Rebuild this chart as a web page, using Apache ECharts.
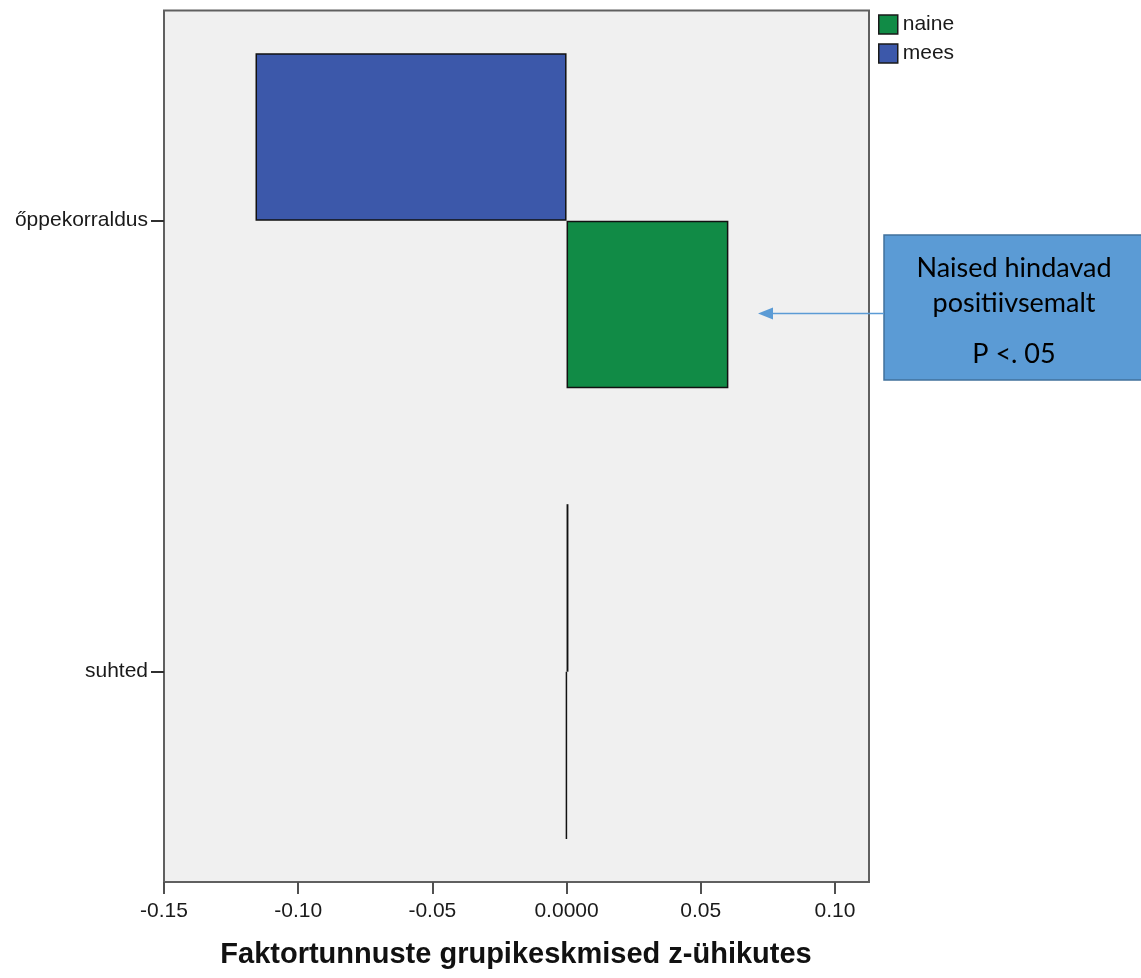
<!DOCTYPE html>
<html>
<head>
<meta charset="utf-8">
<script src="https://cdn.jsdelivr.net/npm/echarts@6/dist/echarts.min.js"></script>
<style>
html,body{margin:0;padding:0;background:#fff;}
#chart{width:1141px;height:978px;}
</style>
</head>
<body>
<div id="chart"></div>
<script>
// ---- data ----
const categories = ['őppekorraldus', 'suhted'];
const seriesNames = ['mees', 'naine'];
const meesValues = [-0.1159, 0.0007];
const naineValues = [0.0603, -0.0001];
const xTicks = [-0.15, -0.10, -0.05, 0, 0.05, 0.10];
const xTickLabels = ['-0.15', '-0.10', '-0.05', '0.0000', '0.05', '0.10'];
const axisTitle = 'Faktortunnuste grupikeskmised z-ühikutes';
const noteLines = ['Naised hindavad', 'positiivsemalt', 'P <. 05'];

const xMin = -0.15, xMax = 0.1127;
const labelMap = {};
xTicks.forEach((v, i) => { labelMap[v.toFixed(4)] = xTickLabels[i]; });

const chart = echarts.init(document.getElementById('chart'), null, {renderer: 'canvas'});
const FONT = '"Liberation Sans", Arial, sans-serif';
const NOTEFONT = 'Lato, "Open Sans", sans-serif';

const option = {
  animation: false,
  backgroundColor: '#ffffff',
  grid: [
    {left: 164, top: 10.5, width: 705, height: 871.5, show: true, outerBoundsMode: 'none',
     backgroundColor: '#f0f0f0', borderColor: '#606060', borderWidth: 2, z: 0},
    {left: 164, top: -4.8, width: 705, height: 902, show: false, outerBoundsMode: 'none'}
  ],
  legend: {
    data: ['naine', 'mees'],
    orient: 'vertical',
    left: 873, top: 9,
    itemWidth: 19, itemHeight: 19, itemGap: 8,
    icon: 'rect',
    textStyle: {fontFamily: FONT, fontSize: 21, color: '#1a1a1a'},
    itemStyle: {borderColor: '#1a1a1a', borderWidth: 1.5}
  },
  xAxis: [
    {gridIndex: 0, type: 'value', min: xMin, max: xMax,
     splitLine: {show: false}, axisLine: {show: false},
     axisTick: {show: true, length: 12, customValues: xTicks,
                lineStyle: {color: '#505050', width: 2}},
     axisLabel: {show: true, customValues: xTicks, margin: 19,
                 fontFamily: FONT, fontSize: 21, color: '#1a1a1a',
                 formatter: v => labelMap[Number(v).toFixed(4)] ?? ''}},
    {gridIndex: 1, type: 'value', min: xMin, max: xMax, show: false,
     splitLine: {show: false}}
  ],
  yAxis: [
    {gridIndex: 0, type: 'value', show: false, splitLine: {show: false}},
    {gridIndex: 1, type: 'category', data: categories, inverse: true,
     axisLine: {show: false, onZero: false},
     axisTick: {show: true, alignWithLabel: true, length: 13,
                lineStyle: {color: '#303030', width: 2}},
     axisLabel: {margin: 16, fontFamily: FONT, fontSize: 21, color: '#1a1a1a'},
     splitLine: {show: false}}
  ],
  series: [
    {name: 'mees', type: 'bar', xAxisIndex: 1, yAxisIndex: 1,
     data: meesValues, barWidth: 167.5, barGap: '0%',
     itemStyle: {color: '#3c58aa', borderColor: '#111', borderWidth: 1.5}},
    {name: 'naine', type: 'bar', xAxisIndex: 1, yAxisIndex: 1,
     data: naineValues, barWidth: 167.5, barGap: '0%',
     itemStyle: {color: '#118b46', borderColor: '#111', borderWidth: 1.5}}
  ],
  graphic: [
    {type: 'text', x: 516, y: 955,
     style: {text: axisTitle, fontFamily: FONT, fontSize: 29, fontWeight: 'bold', fill: '#111',
             align: 'center', verticalAlign: 'middle'},
     z: 10},
    {type: 'rect', shape: {x: 884, y: 235, width: 270, height: 145},
     style: {fill: '#5b9bd5', stroke: '#41719c', lineWidth: 1.5}, z: 10},
    {type: 'text', x: 1014, y: 268,
     style: {text: noteLines[0], fontFamily: NOTEFONT, fontSize: 27,
             fill: '#000', align: 'center', verticalAlign: 'middle'}, z: 11},
    {type: 'text', x: 1014, y: 303,
     style: {text: noteLines[1], fontFamily: NOTEFONT, fontSize: 27,
             fill: '#000', align: 'center', verticalAlign: 'middle'}, z: 11},
    {type: 'text', x: 1014, y: 354,
     style: {text: noteLines[2], fontFamily: NOTEFONT, fontSize: 27,
             fill: '#000', align: 'center', verticalAlign: 'middle'}, z: 11},
    {type: 'line', shape: {x1: 884, y1: 313.5, x2: 770, y2: 313.5},
     style: {stroke: '#5b9bd5', lineWidth: 1.5}, z: 10},
    {type: 'polygon', shape: {points: [[758, 313.5], [773, 307.5], [773, 319.5]]},
     style: {fill: '#5b9bd5'}, z: 10}
  ]
};
chart.setOption(option);
</script>
</body>
</html>
